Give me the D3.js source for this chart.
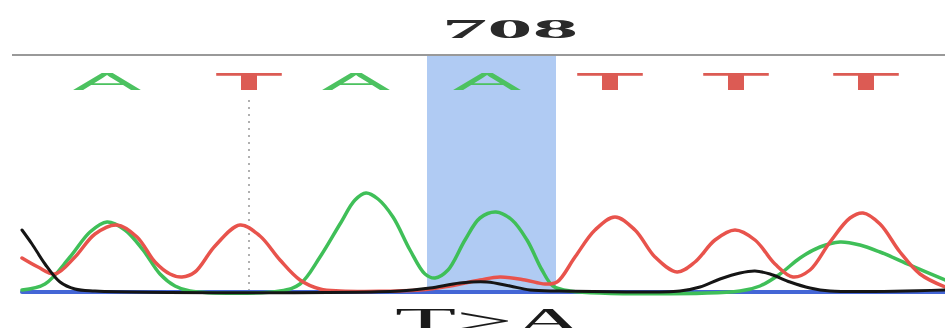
<!DOCTYPE html>
<html>
<head>
<meta charset="utf-8">
<script src="https://cdn.jsdelivr.net/npm/d3@7"></script>
<style>
  body { margin: 0; background: #fff; }
  svg { display: block; }
</style>
</head>
<body>
<svg id="chart"></svg>
<script>
// position label and variant call
const positionLabel = "708";
const variantLabel = "T>A";

// base calls and their scan positions
const bases = ["A", "T", "A", "A", "T", "T", "T"];
const basePos = [107, 249, 356, 487, 610, 736, 866];
const highlightIndex = 3;

// trace intensities, [scan, intensity]
const traceA = [[22,2],[45,8],[70,35],[90,60],[107,70],[125,62],[143,42],[160,18],[175,6],[190,1],[280,1],[300,8],[320,35],[340,68],[355,92],[366,99],[378,93],[393,75],[410,42],[425,18],[435,14],[448,22],[465,52],[480,74],[496,80],[512,72],[527,52],[542,22],[553,6],[570,1],[740,1],[760,6],[780,18],[800,34],[820,45],[840,50],[860,47],[880,40],[910,27],[945,12]];
const traceT = [[22,34],[38,25],[55,18],[75,35],[95,58],[117,67],[137,55],[155,30],[170,18],[182,15],[195,20],[215,46],[240,67],[260,56],[280,32],[300,12],[320,3],[340,1],[420,2],[450,6],[480,12],[500,15],[525,12],[545,8],[557,10],[575,35],[595,62],[615,75],[635,62],[655,35],[677,20],[695,30],[715,52],[735,62],[755,52],[775,28],[793,15],[810,22],[830,50],[850,74],[863,79],[880,68],[900,40],[920,18],[945,5]];
const traceG = [[22,62],[32,48],[45,28],[60,10],[75,3],[95,1],[400,1],[430,4],[460,9],[487,10],[510,6],[530,2],[560,1],[680,1],[700,5],[720,13],[740,19],[755,21],[770,18],[790,10],[810,4],[830,1],[945,2]];
const traceC = [[22,0],[300,0],[600,0],[945,0]];

const baseColor = { A: "#4cc260", T: "#dc5b54" };

const svgWidth = 945, svgHeight = 328;
const svg = d3.select("#chart")
  .attr("width", svgWidth)
  .attr("height", svgHeight);

let x = d3.scaleLinear().domain([22, 945]).range([22, 945]);
let y = d3.scaleLinear().domain([0, 100]).range([292, 192]);

// highlighted base column
svg.append("rect")
  .attr("x", x(basePos[highlightIndex]) - 60)
  .attr("y", 56)
  .attr("width", 129)
  .attr("height", y(0) - 56)
  .attr("fill", "#b0cbf3");

// header
svg.append("text")
  .attr("x", 510)
  .attr("y", 38)
  .attr("text-anchor", "middle")
  .attr("font-family", "Liberation Serif, serif")
  .attr("font-size", 27)
  .attr("font-weight", "bold")
  .attr("textLength", 136)
  .attr("lengthAdjust", "spacingAndGlyphs")
  .attr("fill", "#2a2a2a")
  .text(positionLabel);

svg.append("line")
  .attr("x1", 12).attr("x2", 945)
  .attr("y1", 55).attr("y2", 55)
  .attr("stroke", "#999")
  .attr("stroke-width", 2);

// base call letters
svg.selectAll(".base")
  .data(bases)
  .enter().append("text")
  .attr("class", "base")
  .attr("x", (d, i) => x(basePos[i]))
  .attr("y", 90)
  .attr("text-anchor", "middle")
  .attr("font-family", "Liberation Sans, sans-serif")
  .attr("font-size", 24)
  .attr("font-weight", d => d === "T" ? "bold" : "normal")
  .attr("textLength", 68)
  .attr("lengthAdjust", "spacingAndGlyphs")
  .attr("fill", d => baseColor[d])
  .text(d => d);

// dotted marker
svg.append("line")
  .attr("x1", x(basePos[1])).attr("x2", x(basePos[1]))
  .attr("y1", 100).attr("y2", 290)
  .attr("stroke", "#b0b0b0")
  .attr("stroke-width", 2)
  .attr("stroke-dasharray", "2,5");

let line = d3.line()
  .x(d => x(d[0]))
  .y(d => y(d[1]))
  .curve(d3.curveCatmullRom);

const traces = [
  { data: traceC, color: "#4466d6", width: 4 },
  { data: traceA, color: "#3fbf58", width: 3.5 },
  { data: traceT, color: "#e8534c", width: 3.5 },
  { data: traceG, color: "#151515", width: 3 }
];

traces.forEach(t => {
  svg.append("path")
    .datum(t.data)
    .attr("fill", "none")
    .attr("stroke", t.color)
    .attr("stroke-width", t.width)
    .attr("stroke-linejoin", "round")
    .attr("stroke-linecap", "round")
    .attr("d", line);
});

// variant label, cut by the bottom edge as in the source
svg.append("text")
  .attr("x", 490)
  .attr("y", 333)
  .attr("text-anchor", "middle")
  .attr("font-family", "Liberation Serif, serif")
  .attr("font-size", 36)
  .attr("textLength", 190)
  .attr("lengthAdjust", "spacingAndGlyphs")
  .attr("fill", "#1a1a1a")
  .text(variantLabel);
</script>
</body>
</html>
